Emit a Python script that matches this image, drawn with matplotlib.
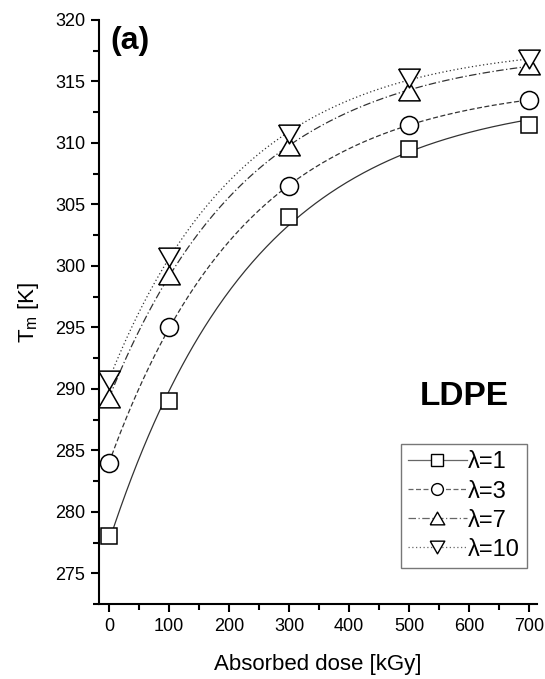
import numpy as np
import matplotlib
matplotlib.use("Agg")
import matplotlib.pyplot as plt
from matplotlib.ticker import MultipleLocator

plt.rcParams['font.family'] = ['Liberation Sans', 'DejaVu Sans']
plt.rcParams['mathtext.fontset'] = 'custom'
plt.rcParams['mathtext.rm'] = 'Liberation Sans'

dose = [0, 100, 300, 500, 700]
tm_l1 = [278.0, 289.0, 304.0, 309.5, 311.5]
tm_l3 = [284.0, 295.0, 306.5, 311.5, 313.5]
tm_l7 = [289.25, 299.25, 309.75, 314.25, 316.3]
tm_l10 = [290.75, 300.75, 310.75, 315.25, 316.8]
labels = ["λ=1", "λ=3", "λ=7", "λ=10"]


def saturating_fit(x, y):
    """Least-squares fit of y = a - b*exp(-x/t), scanning t."""
    x = np.asarray(x, float)
    y = np.asarray(y, float)
    best = None
    for t in np.linspace(50, 1500, 2901):
        e = np.exp(-x / t)
        A = np.column_stack([np.ones_like(x), -e])
        coef, *_ = np.linalg.lstsq(A, y, rcond=None)
        r = np.sum((A @ coef - y) ** 2)
        if best is None or r < best[0]:
            best = (r, coef, t)
    _, (a, b), t = best
    return lambda xx: a - b * np.exp(-xx / t)


# wide, flat triangles
tri_up = [(-1.15, -1.0), (1.15, -1.0), (0.0, 1.0), (-1.15, -1.0)]
tri_down = [(-1.15, 1.0), (1.15, 1.0), (0.0, -1.0), (-1.15, 1.0)]

fig = plt.figure(figsize=(5.45, 6.79), dpi=100)
ax = fig.add_axes([99 / 545, 1 - 604 / 679, (537 - 99) / 545, (604 - 20) / 679])

series = [
    (tm_l1, 's', 11.5, 8.0, '-'),
    (tm_l3, 'o', 13.0, 8.5, (0, (4, 2))),
    (tm_l7, tri_up, 15.5, 10.5, (0, (6, 2, 1, 2))),
    (tm_l10, tri_down, 15.5, 10.5, (0, (1, 2))),
]

xs = np.linspace(0, 700, 300)
for (ys, mk, ms, lms, ls), lab in zip(series, labels):
    f = saturating_fit(dose, ys)
    ax.plot(xs, f(xs), color='#333333', lw=0.9, ls=ls, zorder=2)
    ax.plot(dose, ys, ls='none', marker=mk, ms=ms, mfc='white', mec='black',
            mew=1.1, zorder=3, clip_on=False)
    ax.plot([], [], color='#666666', lw=0.9, ls=ls, marker=mk, ms=lms,
            mfc='white', mec='black', mew=1.0, label=lab)

ax.set_xlim(-17, 713)
ax.set_ylim(272.5, 320)
ax.xaxis.set_major_locator(MultipleLocator(100))
ax.xaxis.set_minor_locator(MultipleLocator(50))
ax.yaxis.set_major_locator(MultipleLocator(5))
ax.yaxis.set_minor_locator(MultipleLocator(2.5))
ax.spines['top'].set_visible(False)
ax.spines['right'].set_visible(False)
for s in ('left', 'bottom'):
    ax.spines[s].set_linewidth(1.5)
ax.tick_params(which='major', direction='out', length=6, width=1.5,
               labelsize=13, pad=4)
ax.tick_params(which='minor', direction='out', length=4, width=1.5)

ax.set_xlabel('Absorbed dose [kGy]', fontsize=16, labelpad=14)
ax.set_ylabel('T$_{\\rm m}$ [K]', fontsize=16, labelpad=10)

ax.text(0.025, 0.99, '(a)', transform=ax.transAxes, fontsize=23,
        fontweight='bold', va='top', ha='left')
ax.text(0.835, 0.355, 'LDPE', transform=ax.transAxes, fontsize=24,
        fontweight='bold', ha='center', va='center')

leg = ax.legend(loc='lower right', bbox_to_anchor=(0.977, 0.062), fontsize=17,
                frameon=True, fancybox=False, handlelength=2.5,
                handletextpad=0.05, borderpad=0.3, labelspacing=0.3,
                borderaxespad=0)
leg.get_frame().set_edgecolor('#555555')
leg.get_frame().set_linewidth(1.0)

fig.savefig('out.png', dpi=100)
